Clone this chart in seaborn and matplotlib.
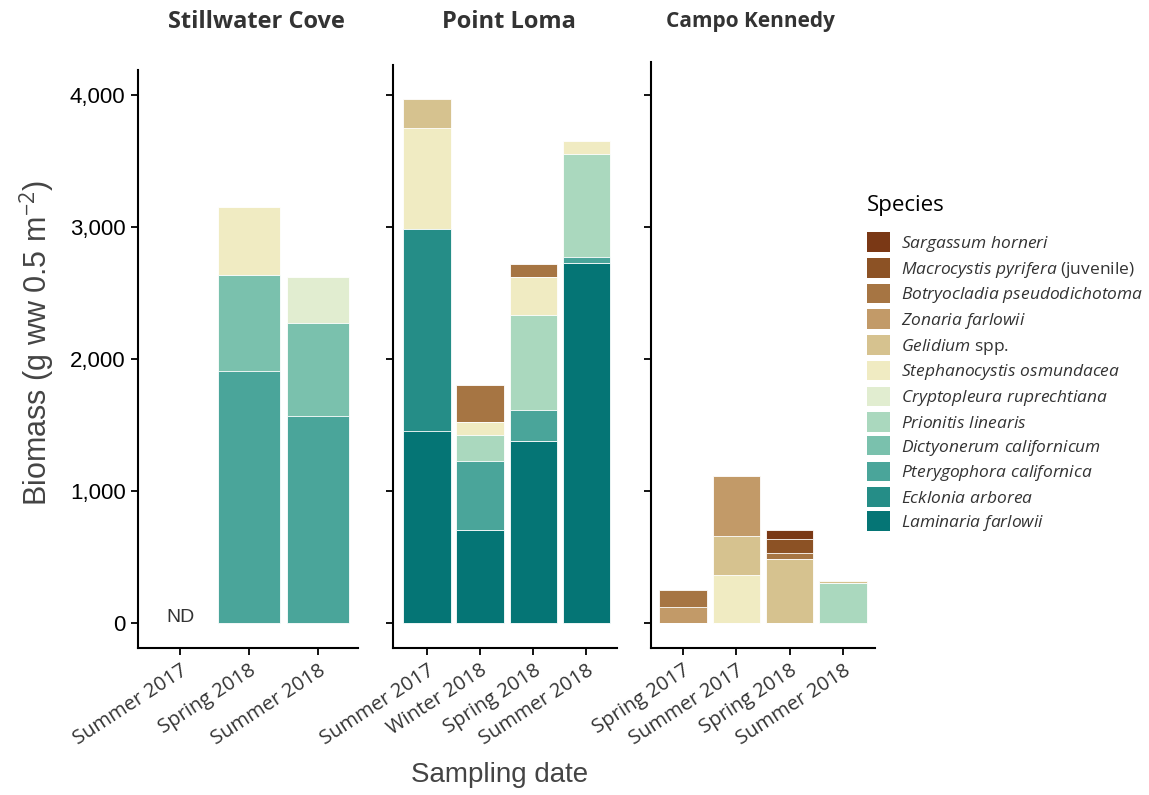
import numpy as np
import pandas as pd
import matplotlib
matplotlib.use("Agg")
import matplotlib.pyplot as plt
import seaborn as sns
from matplotlib.patches import Patch

# ---------------- data ----------------
species = [
    "Sargassum horneri",
    "Macrocystis pyrifera",
    "Botryocladia pseudodichotoma",
    "Zonaria farlowii",
    "Gelidium",
    "Stephanocystis osmundacea",
    "Cryptopleura ruprechtiana",
    "Prionitis linearis",
    "Dictyonerum californicum",
    "Pterygophora californica",
    "Ecklonia arborea",
    "Laminaria farlowii",
]
legend_labels = [
    r"$\it{Sargassum\ horneri}$",
    r"$\it{Macrocystis\ pyrifera}$ (juvenile)",
    r"$\it{Botryocladia\ pseudodichotoma}$",
    r"$\it{Zonaria\ farlowii}$",
    r"$\it{Gelidium}$ spp.",
    r"$\it{Stephanocystis\ osmundacea}$",
    r"$\it{Cryptopleura\ ruprechtiana}$",
    r"$\it{Prionitis\ linearis}$",
    r"$\it{Dictyonerum\ californicum}$",
    r"$\it{Pterygophora\ californica}$",
    r"$\it{Ecklonia\ arborea}$",
    r"$\it{Laminaria\ farlowii}$",
]
colors = [
    "#7A3815", "#8C5225", "#A67543", "#C29A68", "#D6C28F", "#F0EBC2",
    "#E1EDD0", "#AAD8BE", "#7AC1AD", "#4AA59A", "#258D87", "#057575",
]

sites = ["Stillwater Cove", "Point Loma", "Campo Kennedy"]

sc_dates = ["Summer 2017", "Spring 2018", "Summer 2018"]
sc_biomass = {
    "Stephanocystis osmundacea": [0, 510, 0],
    "Cryptopleura ruprechtiana": [0, 0, 350],
    "Dictyonerum californicum": [0, 730, 700],
    "Pterygophora californica": [0, 1910, 1570],
}

pl_dates = ["Summer 2017", "Winter 2018", "Spring 2018", "Summer 2018"]
pl_biomass = {
    "Botryocladia pseudodichotoma": [0, 280, 95, 0],
    "Gelidium": [220, 0, 0, 0],
    "Stephanocystis osmundacea": [765, 95, 295, 95],
    "Prionitis linearis": [0, 195, 715, 785],
    "Pterygophora californica": [0, 525, 235, 40],
    "Ecklonia arborea": [1530, 0, 0, 0],
    "Laminaria farlowii": [1455, 705, 1380, 2730],
}

ck_dates = ["Spring 2017", "Summer 2017", "Spring 2018", "Summer 2018"]
ck_biomass = {
    "Sargassum horneri": [0, 0, 70, 0],
    "Macrocystis pyrifera": [0, 0, 105, 0],
    "Botryocladia pseudodichotoma": [128, 0, 46, 0],
    "Zonaria farlowii": [122, 457, 0, 0],
    "Gelidium": [0, 300, 487, 13],
    "Stephanocystis osmundacea": [0, 360, 0, 0],
    "Prionitis linearis": [0, 0, 0, 305],
}

y_ticks = [0, 1000, 2000, 3000, 4000]

# ---------------- style ----------------
sns.set_theme(style="ticks")
plt.rcParams["font.family"] = ["Open Sans", "DejaVu Sans"]
plt.rcParams["mathtext.fontset"] = "custom"
plt.rcParams["mathtext.it"] = "Open Sans:italic"
plt.rcParams["mathtext.rm"] = "Open Sans"

W, H = 1149, 795
fig = plt.figure(figsize=(W / 100, H / 100), dpi=100)
color_map = dict(zip(species, colors))

TXT = "#333333"


def fig_rect(left, right, top, bottom):
    return [left / W, 1 - bottom / H, (right - left) / W, (bottom - top) / H]


def draw_panel(ax, dates, biomass, width):
    cum = np.zeros(len(dates))
    layers = []
    for sp in species[::-1]:
        vals = np.array(biomass.get(sp, [0] * len(dates)), dtype=float)
        cum = cum + vals
        layers.append((sp, cum.copy(), vals))
    for sp, top, vals in reversed(layers):
        if vals.sum() == 0:
            continue
        df = pd.DataFrame({"date": dates, "biomass": top})
        sns.barplot(data=df, x="date", y="biomass", order=dates,
                    color=color_map[sp], saturation=1, width=width,
                    edgecolor="white", linewidth=0.6, errorbar=None, ax=ax)


# px scale: 0 at y=623, 4000 at y=95
ppu = (623 - 95) / 4000.0

panels = [
    (sc_dates, sc_biomass, (138, 358, 70, 648), (-0.61, 2.58), 0.9),
    (pl_dates, pl_biomass, (393, 617, 65, 648), (-0.64, 3.58), 0.89),
    (ck_dates, ck_biomass, (651, 875, 62, 648), (-0.60, 3.6), 0.89),
]
axes = []
for i, (dates, bio, px, xl, wd) in enumerate(panels):
    ax = fig.add_axes(fig_rect(*px))
    draw_panel(ax, dates, bio, wd)
    ylow = -(px[3] - 623) / ppu
    yhigh = (623 - px[2]) / ppu
    ax.set_ylim(ylow, yhigh)
    ax.set_xlim(*xl)
    ax.set_yticks(y_ticks)
    if i == 0:
        ax.set_yticklabels([f"{v:,}" for v in y_ticks], fontfamily="Liberation Sans",
                           fontsize=16, color="black")
    else:
        ax.set_yticklabels([])
    ax.set_xticks(range(len(dates)))
    ax.set_xticklabels(dates, rotation=33, ha="right", rotation_mode="anchor",
                       fontsize=14.5, color=TXT)
    ax.set_xlabel("")
    ax.set_ylabel("")
    for s in ["top", "right"]:
        ax.spines[s].set_visible(False)
    for s in ["left", "bottom"]:
        ax.spines[s].set_color("black")
        ax.spines[s].set_linewidth(1.5)
    ax.tick_params(axis="both", direction="out", length=5, width=1.3, color="black", pad=4)
    ax.set_facecolor("white")
    axes.append(ax)

axes[0].text(0, 40, "ND", ha="center", va="center", fontsize=14,
             fontfamily="Liberation Sans", color=TXT)

# titles
for x, t, fs in zip([256, 509, 750], sites, [17, 17, 15]):
    fig.text(x / W, 1 - 22 / H, t, ha="center", va="center", fontsize=fs,
             fontweight="bold", color=TXT)

fig.text(37 / W, 1 - 343 / H, "Biomass (g ww 0.5 m$^{-2}$)", rotation=90,
         ha="center", va="center", fontsize=22, fontfamily="Liberation Sans",
         color="#444444")
fig.text(500 / W, 1 - 775 / H, "Sampling date", ha="center", va="center",
         fontsize=20, fontfamily="Liberation Sans", color="#444444")

handles = [Patch(facecolor=c, edgecolor="none") for c in colors]
leg = fig.legend(handles, legend_labels, loc="upper left",
                 bbox_to_anchor=(858 / W, 1 - 186 / H), frameon=False,
                 title="Species", title_fontsize=16, fontsize=12.5,
                 handlelength=1.35, handleheight=1.35, labelspacing=0.24,
                 handletextpad=0.6, borderpad=0, alignment="left")
leg._legend_box.sep = 12
leg.get_title().set_color("black")
for t in leg.get_texts():
    t.set_color(TXT)

fig.savefig("out.png", dpi=100, facecolor="white")
